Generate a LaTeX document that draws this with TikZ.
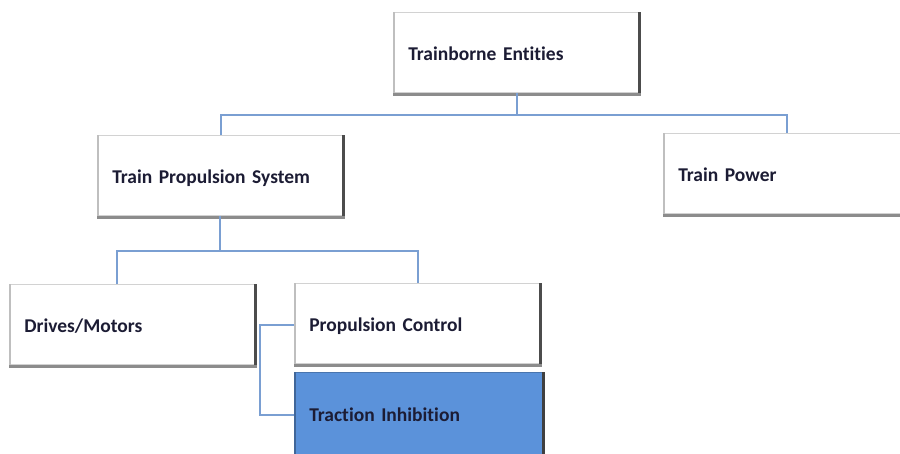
\documentclass[tikz,border=0pt]{standalone}
\usepackage{fontspec}
\setmainfont[Ligatures=NoCommon, WordSpace=0.8]{Carlito}
\begin{document}
\definecolor{linkblue}{HTML}{7A9FD2}
\definecolor{boxblue}{HTML}{5B92DA}
\definecolor{textdark}{HTML}{1C1C34}
\begin{tikzpicture}[x=1pt,y=-1pt,
  entity/.style={rectangle, fill=white, draw=gray!35, line width=0.6pt,
    minimum width=247pt, minimum height=80pt, text width=217pt,
    inner xsep=15pt, align=left, anchor=north west,
    text height=20pt, text depth=4pt,
    font=\fontsize{19.5}{22}\selectfont\bfseries, text=textdark},
  current/.style={entity, fill=boxblue, draw=boxblue!80!black},
  link/.style={draw=linkblue, line width=1.6pt},
  darkedge/.style={draw=black!70, line width=2.6pt},
  shadeedge/.style={draw=black!45, line width=3pt},
  lightedge/.style={draw=black!25, line width=2.4pt}]
\useasboundingbox (0,0) rectangle (900,453);
\clip (0,0) rectangle (900,453);

% junction points of the tree links
\coordinate (j1) at (517,115);
\coordinate (j2) at (220,251);
\coordinate (j3) at (260,325);

% boxes
\node[entity] (te)  at (393,12)  {Trainborne Entities};
\node[entity] (tps) at (97,135)  {Train Propulsion System};
\node[entity] (tp)  at (663,133) {Train Power};
\node[entity] (dm)  at (9,284)   {Drives/Motors};
\node[entity] (pc)  at (294,283) {Propulsion Control};
\node[current, minimum width=250pt, text width=220pt, minimum height=82pt] (ti) at (294,372) {Traction Inhibition};

% bevelled edges
\foreach \n in {te,tps,tp,dm,pc}{
  \draw[lightedge] ([xshift=1.2pt]\n.south west) -- ([xshift=1.2pt]\n.north west);
  \draw[shadeedge] ([yshift=-1.5pt]\n.south west) -- ([yshift=-1.5pt]\n.south east);
  \draw[darkedge] ([xshift=-1.3pt]\n.north east) -- ([xshift=-1.3pt]\n.south east);
}
\draw[draw=black!75, line width=2.6pt] ([xshift=-1.3pt]ti.north east) -- ([xshift=-1.3pt]ti.south east);
\draw[draw=boxblue!70!black, line width=2pt] ([xshift=1pt]ti.south west) -- ([xshift=1pt]ti.north west);

% tree links
\draw[link] (te.south -| j1) -- (j1);
\draw[link] (tps.north) |- (j1) -| (tp.north -| 787,0);
\draw[link] (tps.south -| j2) -- (j2);
\draw[link] (dm.north -| 117,0) |- (j2) -| (pc.north -| 418,0);
\draw[link] (pc.west |- j3) -- (j3) |- (ti.west |- 0,415);
\end{tikzpicture}
\end{document}
